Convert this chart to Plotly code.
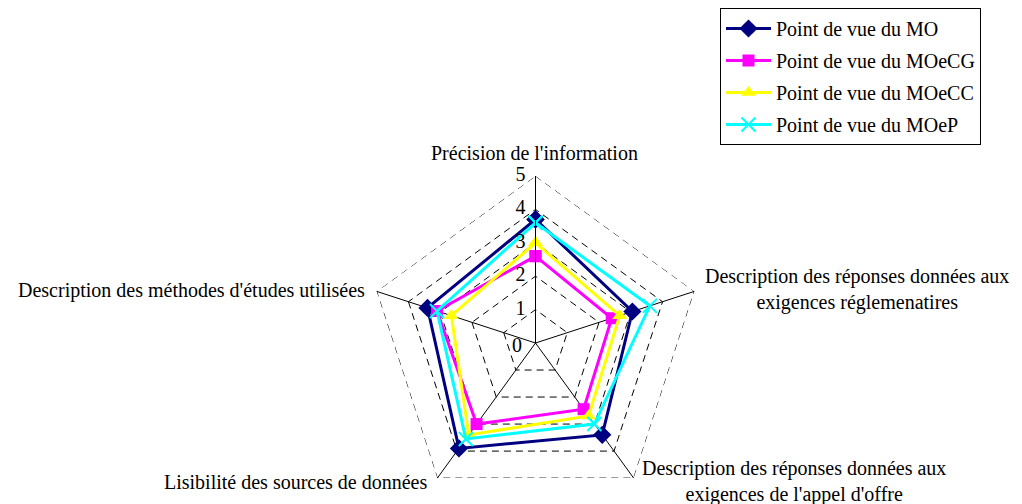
import plotly.graph_objects as go

categories = [
    "Précision de l'information",
    "Description des réponses données aux<br>exigences réglemenatires",
    "Description des réponses données aux<br>exigences de l'appel d'offre",
    "Lisibilité des sources de données",
    "Description des méthodes d'études utilisées",
]

series_names = [
    "Point de vue du MO",
    "Point de vue du MOeCG",
    "Point de vue du MOeCC",
    "Point de vue du MOeP",
]
mo = [3.7, 3.05, 3.4, 3.9, 3.4]
moecg = [2.6, 2.4, 2.45, 3.0, 3.1]
moecc = [3.0, 2.65, 2.7, 3.4, 2.65]
moep = [3.6, 3.6, 3.0, 3.55, 3.1]

radial_ticks = [0, 1, 2, 3, 4, 5]

colors = ["#000080", "#FF00FF", "#FFFF00", "#00FFFF"]
symbols = ["diamond", "square", "triangle-up", "x-thin"]
sizes = [14, 12, 13, 14]

W, H = 1022, 504
FONT = "Liberation Serif"

fig = go.Figure()

# outer dashed pentagon (the max of the radial range)
fig.add_trace(go.Scatterpolar(
    r=[radial_ticks[-1]] * (len(categories) + 1),
    theta=categories + categories[:1],
    mode="lines",
    line=dict(color="black", width=1, dash="7px,5px"),
    showlegend=False,
    hoverinfo="skip",
))

for name, vals, col, sym, sz in zip(series_names, [mo, moecg, moecc, moep], colors, symbols, sizes):
    fig.add_trace(go.Scatterpolar(
        r=vals + vals[:1],
        theta=categories + categories[:1],
        mode="lines+markers",
        name=name,
        legendgroup=name,
        line=dict(color=col, width=3),
        marker=dict(symbol=sym, size=sz, color=col,
                    line=dict(color=col, width=2 if sym == "x-thin" else 0)),
    ))

# radial tick labels, left of the vertical axis (plotly drops the point at r=0)
fig.add_trace(go.Scatterpolar(
    r=radial_ticks[1:],
    theta=[categories[0]] * len(radial_ticks[1:]),
    mode="text",
    text=[f"{t}\u00a0\u00a0" for t in radial_ticks[1:]],
    textposition="middle left",
    textfont=dict(family=FONT, size=20, color="black"),
    cliponaxis=False,
    showlegend=False,
    hoverinfo="skip",
))
fig.add_annotation(
    text=str(radial_ticks[0]), x=516 / W, y=1 - 337 / H, xref="paper", yref="paper",
    xanchor="right", yanchor="middle", showarrow=False,
    font=dict(family=FONT, size=20, color="black"),
)

# category labels (page body adds an 8px offset, so positions are shifted by -8)
label_pos = [
    (526.5, 145, "center", "middle"),
    (695, 281, "left", "middle"),
    (632, 473.5, "left", "middle"),
    (421, 474, "right", "middle"),
    (359, 282, "right", "middle"),
]
for cat, (px, py, xa, ya) in zip(categories, label_pos):
    fig.add_annotation(
        text=cat, x=px / W, y=1 - py / H, xref="paper", yref="paper",
        xanchor=xa, yanchor=ya, align="center", showarrow=False,
        font=dict(family=FONT, size=20, color="black"),
    )

fig.update_layout(
    width=W,
    height=H,
    margin=dict(l=0, r=0, t=0, b=0),
    paper_bgcolor="white",
    plot_bgcolor="white",
    font=dict(family=FONT, size=20, color="black"),
    polar=dict(
        domain=dict(x=[360.5 / W, 694.5 / W], y=[2 / H, 336 / H]),
        bgcolor="white",
        gridshape="linear",
        radialaxis=dict(
            range=[0, 5],
            dtick=1,
            angle=90,
            showline=True,
            linecolor="black",
            linewidth=1,
            gridcolor="black",
            griddash="7px,5px",
            gridwidth=1,
            ticks="",
            showticklabels=False,
        ),
        angularaxis=dict(
            rotation=90,
            direction="clockwise",
            showline=False,
            gridcolor="black",
            gridwidth=1,
            ticks="",
            showticklabels=False,
        ),
    ),
    legend=dict(
        x=712 / W,
        y=1.0,
        xanchor="left",
        yanchor="top",
        bordercolor="black",
        borderwidth=1,
        bgcolor="white",
        traceorder="grouped",
        tracegroupgap=3,
        itemwidth=45,
        font=dict(family=FONT, size=20),
    ),
)

fig.write_html("out.html")
